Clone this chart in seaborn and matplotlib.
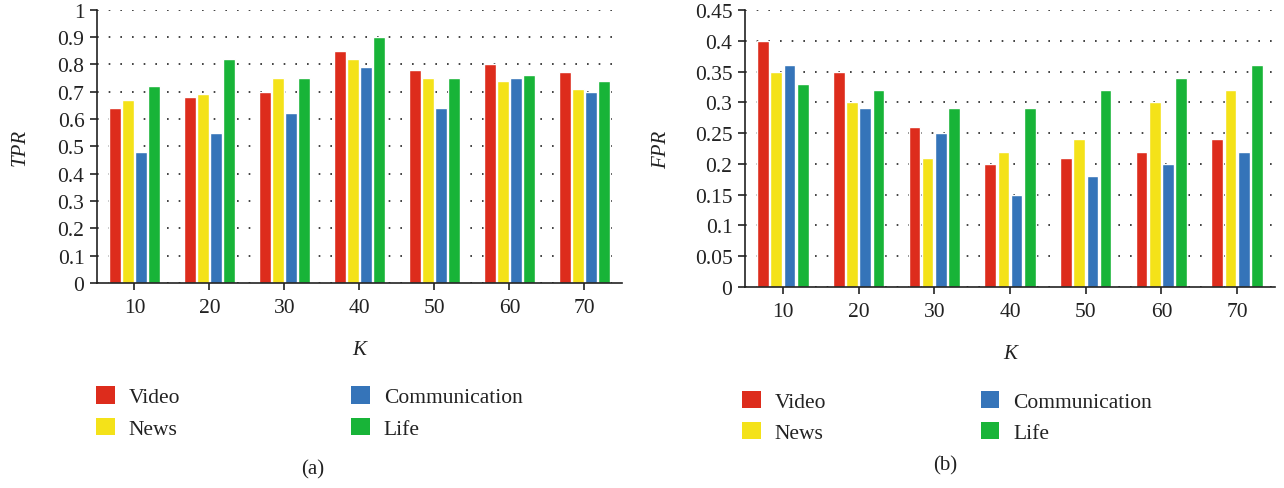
import numpy as np
import pandas as pd
import matplotlib
matplotlib.use("Agg")
import matplotlib.pyplot as plt
from matplotlib.patches import Patch
import seaborn as sns

# K values and application categories
k_values = [10, 20, 30, 40, 50, 60, 70]
categories = ["Video", "News", "Communication", "Life"]

# True positive rate per category
tpr_video = [0.64, 0.68, 0.70, 0.85, 0.78, 0.80, 0.77]
tpr_news = [0.67, 0.69, 0.75, 0.82, 0.75, 0.74, 0.71]
tpr_comm = [0.48, 0.55, 0.62, 0.79, 0.64, 0.75, 0.70]
tpr_life = [0.72, 0.82, 0.75, 0.90, 0.75, 0.76, 0.74]

# False positive rate per category
fpr_video = [0.40, 0.35, 0.26, 0.20, 0.21, 0.22, 0.24]
fpr_news = [0.35, 0.30, 0.21, 0.22, 0.24, 0.30, 0.32]
fpr_comm = [0.36, 0.29, 0.25, 0.15, 0.18, 0.20, 0.22]
fpr_life = [0.33, 0.32, 0.29, 0.29, 0.32, 0.34, 0.36]

tpr_ticks = [0, 0.1, 0.2, 0.3, 0.4, 0.5, 0.6, 0.7, 0.8, 0.9, 1]
tpr_ticklabels = ["0", "0.1", "0.2", "0.3", "0.4", "0.5", "0.6", "0.7", "0.8", "0.9", "1"]
fpr_ticks = [0, 0.05, 0.1, 0.15, 0.2, 0.25, 0.3, 0.35, 0.4, 0.45]
fpr_ticklabels = ["0", "0.05", "0.1", "0.15", "0.2", "0.25", "0.3", "0.35", "0.4", "0.45"]

palette = ["#DD2C1C", "#F4E219", "#3574B9", "#18B438"]
ink = "#222222"


def long_frame(series):
    rows = []
    for cat, vals in zip(categories, series):
        for k, v in zip(k_values, vals):
            rows.append({"K": str(k), "Category": cat, "value": v})
    return pd.DataFrame(rows)


df_tpr = long_frame([tpr_video, tpr_news, tpr_comm, tpr_life])
df_fpr = long_frame([fpr_video, fpr_news, fpr_comm, fpr_life])

sns.set_theme(style="white")
plt.rcParams["font.family"] = ["Liberation Serif", "DejaVu Serif"]

fig = plt.figure(figsize=(12.84, 4.89), dpi=100)
ax_a = fig.add_axes([0.0755, 0.4192, 0.4089, 0.5593])
ax_b = fig.add_axes([0.5802, 0.4110, 0.4128, 0.5665])


def draw(ax, df, ticks, ticklabels, ylabel, ymax, ylabelpad):
    sns.barplot(data=df, x="K", y="value", hue="Category", hue_order=categories,
                palette=palette, width=0.7, gap=0.12, saturation=1,
                ax=ax, legend=False, errorbar=None)
    ax.set_ylim(0, ymax)
    ax.set_xlim(-0.5, 6.5)
    ax.set_yticks(ticks)
    ax.set_yticklabels(ticklabels)
    ax.yaxis.grid(True, color=ink, linestyle=(0, (1, 6)), linewidth=1.2)
    ax.xaxis.grid(False)
    ax.set_axisbelow(True)
    for side in ["top", "right"]:
        ax.spines[side].set_visible(False)
    for side in ["left", "bottom"]:
        ax.spines[side].set_color(ink)
        ax.spines[side].set_linewidth(1.2)
    ax.tick_params(axis="both", which="major", labelsize=15.5, colors=ink,
                   length=5, width=1.2, direction="out", left=True, bottom=True,
                   pad=4)
    ax.tick_params(axis="x", pad=6)
    ax.set_xlabel("K", fontsize=15, fontstyle="italic", labelpad=16, color=ink)
    ax.set_ylabel(ylabel, fontsize=15, fontstyle="italic", labelpad=ylabelpad, color=ink)


draw(ax_a, df_tpr, tpr_ticks, tpr_ticklabels, "TPR", 1.0, 20)
draw(ax_b, df_fpr, fpr_ticks, fpr_ticklabels, "FPR", 0.45, 17)

# Legends below each panel
handles = [Patch(facecolor=c, edgecolor="none") for c in palette]
for anchor, colspace in [((0.060, 0.2474), 7.95), ((0.563, 0.239), 7.2)]:
    fig.legend(handles, categories, loc="upper left", bbox_to_anchor=anchor,
               ncol=2, frameon=False, fontsize=15.5, handlelength=0.85,
               handleheight=0.85, handletextpad=0.65, labelspacing=0.5,
               columnspacing=colspace, labelcolor=ink)

fig.text(0.2438, 0.040, "(a)", ha="center", va="center", fontsize=15, color=ink)
fig.text(0.7360, 0.047, "(b)", ha="center", va="center", fontsize=15, color=ink)

fig.savefig("out.png", dpi=100)
